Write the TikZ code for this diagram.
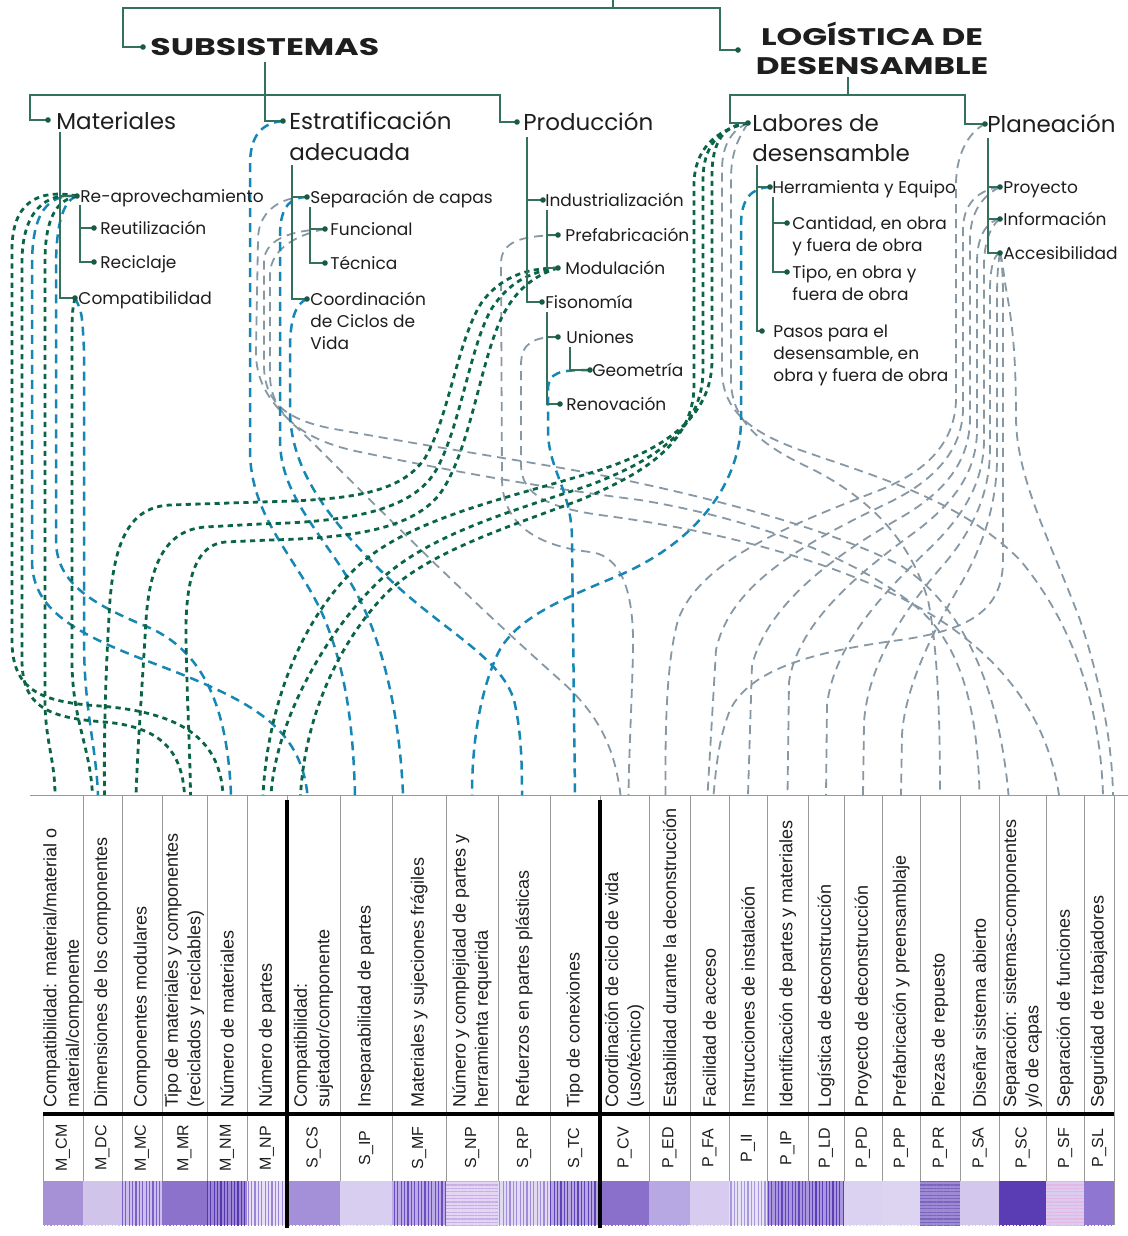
\documentclass[tikz,border=0pt]{standalone}
\usepackage{fontspec}
\setmainfont{Poppins}
\newfontfamily\tabfont{Liberation Sans}
\usetikzlibrary{patterns.meta}
\definecolor{treegreen}{RGB}{52,112,92}
\definecolor{dotgreen}{RGB}{24,90,68}
\definecolor{dkgreen}{RGB}{10,100,72}
\definecolor{tealblue}{RGB}{22,135,180}
\definecolor{greyblue}{RGB}{135,152,165}
\definecolor{ink}{RGB}{30,30,30}
% cell colours (base / stripes)
\definecolor{cMCM}{HTML}{A690D6}\definecolor{sMCM}{HTML}{A690D6}
\definecolor{cMDC}{HTML}{D0C4EA}\definecolor{sMDC}{HTML}{D0C4EA}
\definecolor{cMMC}{HTML}{CBBDEC}\definecolor{sMMC}{HTML}{7B5FC6}
\definecolor{cMMR}{HTML}{8C72CB}\definecolor{sMMR}{HTML}{8C72CB}
\definecolor{cMNM}{HTML}{9D86D6}\definecolor{sMNM}{HTML}{5637AD}
\definecolor{cMNP}{HTML}{E6DFF5}\definecolor{sMNP}{HTML}{9B86D6}
\definecolor{cSCS}{HTML}{A48FD9}\definecolor{sSCS}{HTML}{A48FD9}
\definecolor{cSIP}{HTML}{D8CEF0}\definecolor{sSIP}{HTML}{D8CEF0}
\definecolor{cSMF}{HTML}{BCAAE6}\definecolor{sSMF}{HTML}{6A4EBF}
\definecolor{cSNP}{HTML}{E4D6F2}\definecolor{sSNP}{HTML}{C8AEE6}
\definecolor{cSRP}{HTML}{E2DAF3}\definecolor{sSRP}{HTML}{A08CD8}
\definecolor{cSTC}{HTML}{B6A6E2}\definecolor{sSTC}{HTML}{5E42B8}
\definecolor{cPCV}{HTML}{8B70CB}\definecolor{sPCV}{HTML}{8B70CB}
\definecolor{cPED}{HTML}{B7A7E2}\definecolor{sPED}{HTML}{B7A7E2}
\definecolor{cPFA}{HTML}{D7CCF0}\definecolor{sPFA}{HTML}{D7CCF0}
\definecolor{cPII}{HTML}{E8E2F6}\definecolor{sPII}{HTML}{A898DC}
\definecolor{cPIP}{HTML}{AB96DE}\definecolor{sPIP}{HTML}{6247BB}
\definecolor{cPLD}{HTML}{AA96DE}\definecolor{sPLD}{HTML}{5A3FB5}
\definecolor{cPPD}{HTML}{DBD2F1}\definecolor{sPPD}{HTML}{DBD2F1}
\definecolor{cPPP}{HTML}{DDD4F1}\definecolor{sPPP}{HTML}{DDD4F1}
\definecolor{cPPR}{HTML}{9D8AD2}\definecolor{sPPR}{HTML}{7866BD}
\definecolor{cPSA}{HTML}{D3C7EE}\definecolor{sPSA}{HTML}{D3C7EE}
\definecolor{cPSC}{HTML}{5A3CB5}\definecolor{sPSC}{HTML}{5A3CB5}
\definecolor{cPSF}{HTML}{DCCBF0}\definecolor{sPSF}{HTML}{E6B6E2}
\definecolor{cPSL}{HTML}{8F77D1}\definecolor{sPSL}{HTML}{8F77D1}

\begin{document}
\begin{tikzpicture}[x=0.5pt, y=-0.5pt,
    tree/.style={draw=treegreen, line width=0.7pt},
    gline/.style={draw=dkgreen, line width=1.4pt, dash pattern=on 2.6pt off 2.2pt},
    tline/.style={draw=tealblue, line width=1.25pt, dash pattern=on 4.5pt off 3pt},
    yline/.style={draw=greyblue, line width=0.9pt, dash pattern=on 4.5pt off 3pt},
    head/.style={anchor=base west, inner sep=0pt, text=ink, font=\bfseries\fontsize{12}{14.5}\selectfont},
    big/.style={anchor=base west, inner sep=0pt, align=left, text=ink, font=\fontsize{11.5}{15}\selectfont},
    small/.style={anchor=base west, inner sep=0pt, align=left, text=ink, font=\fontsize{8.5}{11}\selectfont},
    desc/.style={rotate=90, anchor=west, align=left, inner sep=0pt, text=ink, font=\tabfont\fontsize{9}{11.2}\selectfont},
    code/.style={rotate=90, inner sep=0pt, text=ink, font=\tabfont\fontsize{8}{9}\selectfont},
    grid/.style={draw=black!40, line width=0.4pt},
    rule/.style={draw=black, line width=1.8pt}]

        \useasboundingbox[fill=white] (0,0) rectangle (1128,1236);

        % Table of criteria
        \draw[grid] (30,795) -- (1128,795);
        \draw[grid] (43,1114) -- (43,1225);
        \foreach \g/\k/\l/\r/\ang/\txt in {
            M/CM/43/83/90/{Compatibilidad: material/material o\\material/componente},
            M/DC/83/122/90/{Dimensiones de los componentes},
            M/MC/122/162/90/{Componentes modulares},
            M/MR/162/207/90/{Tipo de materiales y componentes\\(reciclados y reciclables)},
            M/NM/207/247/90/{Número de materiales},
            M/NP/247/287/90/{Número de partes},
            S/CS/287/340/90/{Compatibilidad:\\sujetador/componente},
            S/IP/340/392/90/{Inseparabilidad de partes},
            S/MF/392/446/90/{Materiales y sujeciones frágiles},
            S/NP/446/498/0/{Número y complejidad de partes y\\herramienta requerida},
            S/RP/498/550/90/{Refuerzos en partes plásticas},
            S/TC/550/600/90/{Tipo de conexiones},
            P/CV/600/649/90/{Coordinación de ciclo de vida\\(uso/técnico)},
            P/ED/649/690/90/{Estabilidad durante la deconstrucción},
            P/FA/690/729/90/{Facilidad de acceso},
            P/II/729/767/90/{Instrucciones de instalación},
            P/IP/767/808/90/{Identificación de partes y materiales},
            P/LD/808/844/90/{Logística de deconstrucción},
            P/PD/844/882/90/{Proyecto de deconstrucción},
            P/PP/882/920/90/{Prefabricación y preensamblaje},
            P/PR/920/960/0/{Piezas de repuesto},
            P/SA/960/999/90/{Diseñar sistema abierto},
            P/SC/999/1046/90/{Separación: sistemas-componentes\\y/o de capas},
            P/SF/1046/1084/0/{Separación de funciones},
            P/SL/1084/1114/90/{Seguridad de trabajadores}}{
            \fill[fill=c\g\k] (\l,1181) rectangle (\r,1225);
            \fill[pattern={Lines[angle=\ang,distance=1.7pt,line width=0.6pt]}, pattern color=s\g\k] (\l,1181) rectangle (\r,1225);
            \node[desc] (d\g\k) at ({(\l+\r)/2},1108) {\txt};
            \node[code] (k\g\k) at ({(\l+\r)/2},1148) {\g\_\k};
            \draw[grid] (\r,795) -- (\r,1225);
            \coordinate (top\g\k) at ({(\l+\r)/2},795);
        }
        \draw[rule] (43,1114) -- (1114,1114);
        \draw[rule] (287,800) -- (287,1228);
        \draw[rule] (600,800) -- (600,1228);

        % Tree points
        \coordinate (sub) at (143,47);
        \coordinate (log) at (738,50);
        \coordinate (mat) at (48,120);
        \coordinate (est) at (283,121);
        \coordinate (prod) at (517,122);
        \coordinate (lab) at (748,123);
        \coordinate (plan) at (985,124);
        \coordinate (reap) at (77,196);
        \coordinate (reut) at (94,228);
        \coordinate (reci) at (94,262);
        \coordinate (comp) at (75,298);
        \coordinate (sepc) at (307,197);
        \coordinate (func) at (325,229);
        \coordinate (tecn) at (325,263);
        \coordinate (coord) at (307,299);
        \coordinate (indu) at (543,200);
        \coordinate (pref) at (558,235);
        \coordinate (modu) at (558,268);
        \coordinate (fiso) at (542,302);
        \coordinate (unio) at (558,337);
        \coordinate (geom) at (590,370);
        \coordinate (reno) at (560,404);
        \coordinate (herr) at (770,187);
        \coordinate (cant) at (787,223);
        \coordinate (tipo) at (787,272);
        \coordinate (pasos) at (762,331);
        \coordinate (proy) at (1000,187);
        \coordinate (info) at (1000,219);
        \coordinate (acce) at (1000,253);

        % Grey links
        \draw[yline] (func) .. controls (300,230) and (264,236) .. (264,262) -- (264,365) .. controls (264,405) and (290,422) .. (340,430) .. controls (450,450) and (520,460) .. (600,475) .. controls (700,495) and (820,525) .. (900,565) .. controls (970,610) and (1000,700) .. ([xshift=-7pt]topPSC);
        \draw[yline] (func) .. controls (305,233) and (270,245) .. (270,275) -- (270,375) .. controls (270,412) and (300,440) .. (360,452) .. controls (470,475) and (560,490) .. (640,500) .. controls (760,520) and (860,560) .. (920,610) .. controls (965,650) and (978,720) .. (topPSA);
        \draw[yline] (sepc) .. controls (290,196) and (258,205) .. (258,240) -- (256,350) .. controls (255,395) and (285,415) .. (315,445) .. controls (385,515) and (470,600) .. (560,680) .. controls (600,715) and (615,750) .. ([xshift=-2pt]topPCV);
        \draw[yline] (pref) .. controls (530,236) and (502,238) .. (501,262) -- (502,480) .. controls (503,520) and (530,545) .. (590,552) .. controls (625,556) and (634,600) .. (633,650) .. controls (632,700) and (629,750) .. ([xshift=2pt]topPCV);
        \draw[yline] (unio) .. controls (535,337) and (521,342) .. (521,365) -- (521,465) .. controls (521,495) and (550,508) .. (600,515) .. controls (700,528) and (800,552) .. (880,588) .. controls (980,632) and (1045,700) .. ([xshift=-3pt]topPSF);
        \draw[yline] (lab) .. controls (736,128) and (722,140) .. (722,170) -- (722,370) .. controls (722,410) and (750,432) .. (800,450) .. controls (880,478) and (960,500) .. (1020,560) .. controls (1070,620) and (1100,700) .. ([xshift=2pt]topPSL);
        \draw[yline] (lab) .. controls (742,133) and (731,148) .. (731,178) -- (731,380) .. controls (731,420) and (760,445) .. (810,468) .. controls (870,498) and (910,540) .. (928,600) .. controls (938,650) and (940,720) .. (topPPR);
        \draw[yline] (plan) .. controls (972,130) and (956,150) .. (956,185) -- (956,400) .. controls (955,440) and (930,470) .. (880,490) .. controls (790,525) and (700,560) .. (678,620) .. controls (667,660) and (665,720) .. ([xshift=-2pt]topPED);
        \draw[yline] (proy) .. controls (985,189) and (963,198) .. (963,230) -- (963,410) .. controls (962,450) and (935,480) .. (890,502) .. controls (800,545) and (730,585) .. (716,650) -- ([xshift=-1pt]topPFA);
        \draw[yline] (proy) .. controls (990,192) and (970,205) .. (970,240) -- (970,420) .. controls (969,462) and (945,492) .. (900,518) .. controls (830,558) and (768,605) .. (752,665) -- (topPII);
        \draw[yline] (info) .. controls (990,220) and (977,232) .. (977,262) -- (977,432) .. controls (976,472) and (955,502) .. (915,532) .. controls (860,572) and (798,622) .. (789,682) -- (topPIP);
        \draw[yline] (info) .. controls (994,223) and (984,236) .. (984,266) -- (984,442) .. controls (983,482) and (965,514) .. (930,548) .. controls (882,594) and (834,645) .. (827,705) -- (topPLD);
        \draw[yline] (acce) .. controls (995,254) and (990,265) .. (990,290) -- (990,452) .. controls (989,492) and (975,527) .. (945,563) .. controls (905,608) and (868,664) .. (864,722) -- (topPPD);
        \draw[yline] (acce) .. controls (999,258) and (997,270) .. (997,298) -- (997,462) .. controls (996,502) and (985,542) .. (962,582) .. controls (937,624) and (905,684) .. (902,735) -- (topPPP);
        \draw[yline] (acce) .. controls (1003,262) and (1004,280) .. (1008,300) .. controls (1013,330) and (1016,360) .. (1016,420) .. controls (1017,480) and (1052,545) .. (1080,620) .. controls (1100,680) and (1112,740) .. ([xshift=7pt]topPSL);
        \draw[yline] (acce) .. controls (1002,262) and (1003,275) .. (1003,300) -- (1003,560) .. controls (1003,610) and (970,630) .. (900,640) .. controls (810,652) and (750,670) .. (730,710) .. controls (718,740) and (716,770) .. ([xshift=2pt]topPFA);

        % Blue links
        \draw[tline] (reap) .. controls (48,194) and (32,212) .. (32,265) -- (32,560) .. controls (32,605) and (65,630) .. (150,662) .. controls (250,700) and (300,725) .. ([xshift=-3pt]topSCS);
        \draw[tline] (reap) .. controls (65,200) and (56,218) .. (56,268) -- (56,540) .. controls (56,585) and (95,605) .. (150,628) .. controls (210,655) and (228,720) .. ([xshift=2pt]topMNM);
        \draw[tline] (comp) .. controls (82,312) .. (84,350) -- (84,640) .. controls (84,710) and (96,745) .. ([xshift=-2.25pt]topMDC);
        \draw[tline] (est) .. controls (262,123) and (250,135) .. (250,165) -- (250,450) .. controls (250,520) and (300,560) .. (325,620) .. controls (345,670) and (353,720) .. ([xshift=-5.5pt]topSIP);
        \draw[tline] (sepc) .. controls (292,197) and (280,205) .. (280,235) -- (280,440) .. controls (280,500) and (330,540) .. (360,600) .. controls (385,650) and (400,720) .. ([xshift=-8pt]topSMF);
        \draw[tline] (coord) .. controls (295,304) and (290,320) .. (290,350) -- (290,410) .. controls (290,470) and (330,520) .. (380,570) .. controls (440,630) and (500,655) .. (514,700) .. controls (521,730) and (522,760) .. ([xshift=-1pt]topSRP);
        \draw[tline] (geom) .. controls (560,370) and (548,372) .. (548,390) -- (548,430) .. controls (548,470) and (572,490) .. (572,540) -- (topSTC);
        \draw[tline] (herr) .. controls (752,188) and (741,198) .. (741,225) -- (741,420) .. controls (741,480) and (700,540) .. (620,575) .. controls (560,600) and (510,620) .. (495,660) .. controls (478,700) and (472,750) .. (topSNP);

        % Green links
        \draw[gline] (reap) .. controls (35,188) and (12,205) .. (12,250) -- (12,640) .. controls (12,690) and (40,702) .. (100,706) .. controls (175,712) and (220,735) .. ([xshift=-2pt]topMNM);
        \draw[gline] (reap) .. controls (45,192) and (22,212) .. (22,262) -- (22,660) .. controls (22,708) and (50,718) .. (105,722) .. controls (160,727) and (182,750) .. (topMMR);
        \draw[gline] (reap) .. controls (58,200) and (45,215) .. (45,262) -- (45,700) .. controls (45,740) and (55,760) .. ([xshift=-4pt]topMCM);
        \draw[gline] (comp) .. controls (72,312) .. (72,350) -- (72,660) .. controls (72,720) and (90,745) .. ([xshift=-5pt]topMDC);
        \draw[gline] (modu) .. controls (525,268) and (500,278) .. (482,302) .. controls (458,338) and (448,420) .. (425,458) .. controls (400,495) and (345,500) .. (260,502) -- (170,505) .. controls (130,507) and (115,540) .. (110,600) .. controls (105,680) and (104,740) .. ([xshift=1pt]topMDC);
        \draw[gline] (modu) .. controls (528,272) and (508,284) .. (492,308) .. controls (470,345) and (460,430) .. (435,472) .. controls (410,512) and (345,522) .. (260,524) -- (205,527) .. controls (168,530) and (150,560) .. (146,620) .. controls (142,690) and (138,740) .. ([xshift=-3pt]topMMC);
        \draw[gline] (modu) .. controls (532,276) and (515,292) .. (503,315) .. controls (482,355) and (472,440) .. (445,486) .. controls (420,530) and (350,538) .. (270,540) -- (225,542) .. controls (195,545) and (185,580) .. (186,640) .. controls (187,700) and (190,750) .. ([xshift=3pt]topMMR);
        \draw[gline] (lab) .. controls (725,125) and (712,140) .. (712,175) -- (712,360) .. controls (712,420) and (660,450) .. (600,470) .. controls (520,495) and (420,515) .. (365,560) .. controls (305,610) and (268,700) .. ([xshift=-2pt]topMNP);
        \draw[gline] (lab) .. controls (720,128) and (703,145) .. (703,180) -- (703,370) .. controls (703,432) and (650,462) .. (590,485) .. controls (510,512) and (425,535) .. (375,585) .. controls (325,635) and (276,720) .. ([xshift=2pt]topMNP);
        \draw[gline] (lab) .. controls (715,130) and (694,150) .. (694,185) -- (694,385) .. controls (694,445) and (640,475) .. (580,500) .. controls (500,530) and (420,555) .. (380,600) .. controls (335,650) and (305,720) .. ([xshift=-6.5pt]topSCS);

        % Tree lines
        \draw[tree] (613,0) -- (613,8);
        \draw[tree] (sub) -| (123,8) -- (720,8) |- (log);
        \draw[tree] (mat) -| (30,95) -- (500,95) |- (prod);
        \draw[tree] (265,62) |- (est);
        \draw[tree] (lab) -| (730,95) -- (965,95) |- (plan);
        \draw[tree] (848,77) -- (848,95);
        \draw[tree] (60,132) |- (comp);
        \draw[tree] (60,196) -- (reap);
        \draw[tree] (80,205) |- (reci);
        \draw[tree] (80,228) -- (reut);
        \draw[tree] (292,165) |- (coord);
        \draw[tree] (292,197) -- (sepc);
        \draw[tree] (310,207) |- (tecn);
        \draw[tree] (310,229) -- (func);
        \draw[tree] (527,137) |- (fiso);
        \draw[tree] (527,200) -- (indu);
        \draw[tree] (547,210) |- (modu);
        \draw[tree] (547,235) -- (pref);
        \draw[tree] (547,312) |- (reno);
        \draw[tree] (547,337) -- (unio);
        \draw[tree] (570,347) |- (geom);
        \draw[tree] (757,165) |- (pasos);
        \draw[tree] (757,187) -- (herr);
        \draw[tree] (773,197) |- (tipo);
        \draw[tree] (773,223) -- (cant);
        \draw[tree] (988,138) |- (acce);
        \draw[tree] (988,187) -- (proy);
        \draw[tree] (988,219) -- (info);
        \foreach \n in {sub,log,mat,est,prod,lab,plan,reap,reut,reci,comp,sepc,func,tecn,coord,
                        indu,pref,modu,fiso,unio,geom,reno,herr,cant,tipo,pasos,proy,info,acce}
            \fill[dotgreen] (\n) circle (1.4pt);

        % Labels (multi-line nodes sit on their last baseline)
        \node[head] (subT) at (150,56) {\scalebox{1.38}[1]{SUBSISTEMAS}};
        \node[head, anchor=center, align=center] (logT) at (872,48) {\scalebox{1.36}[1]{LOGÍSTICA DE}\\\scalebox{1.36}[1]{DESENSAMBLE}};
        \node[big] (matT) at (56,129) {Materiales};
        \node[big] (estT) at (289,160) {Estratificación\\adecuada};
        \node[big] (prodT) at (523,131) {Producción};
        \node[big] (labT) at (752,162) {Labores de\\desensamble};
        \node[big] (planT) at (987,133) {Planeación};
        \node[small] (reapT) at (80,202) {Re-aprovechamiento};
        \node[small] (reutT) at (100,234) {Reutilización};
        \node[small] (reciT) at (100,268) {Reciclaje};
        \node[small] (compT) at (78,304) {Compatibilidad};
        \node[small] (sepcT) at (310,203) {Separación de capas};
        \node[small] (funcT) at (330,235) {Funcional};
        \node[small] (tecnT) at (330,269) {Técnica};
        \node[small] (coordT) at (310,349) {Coordinación\\de Ciclos de\\Vida};
        \node[small] (induT) at (545,206) {Industrialización};
        \node[small] (prefT) at (565,241) {Prefabricación};
        \node[small] (moduT) at (565,274) {Modulación};
        \node[small] (fisoT) at (545,308) {Fisonomía};
        \node[small] (unioT) at (566,343) {Uniones};
        \node[small] (geomT) at (592,376) {Geometría};
        \node[small] (renoT) at (566,410) {Renovación};
        \node[small] (herrT) at (772,193) {Herramienta y Equipo};
        \node[small] (cantT) at (792,251) {Cantidad, en obra\\y fuera de obra};
        \node[small] (tipoT) at (792,300) {Tipo, en obra y\\fuera de obra};
        \node[small] (pasosT) at (773,381) {Pasos para el\\desensamble, en\\obra y fuera de obra};
        \node[small] (proyT) at (1003,193) {Proyecto};
        \node[small] (infoT) at (1003,225) {Información};
        \node[small] (acceT) at (1003,259) {Accesibilidad};
\end{tikzpicture}
\end{document}
